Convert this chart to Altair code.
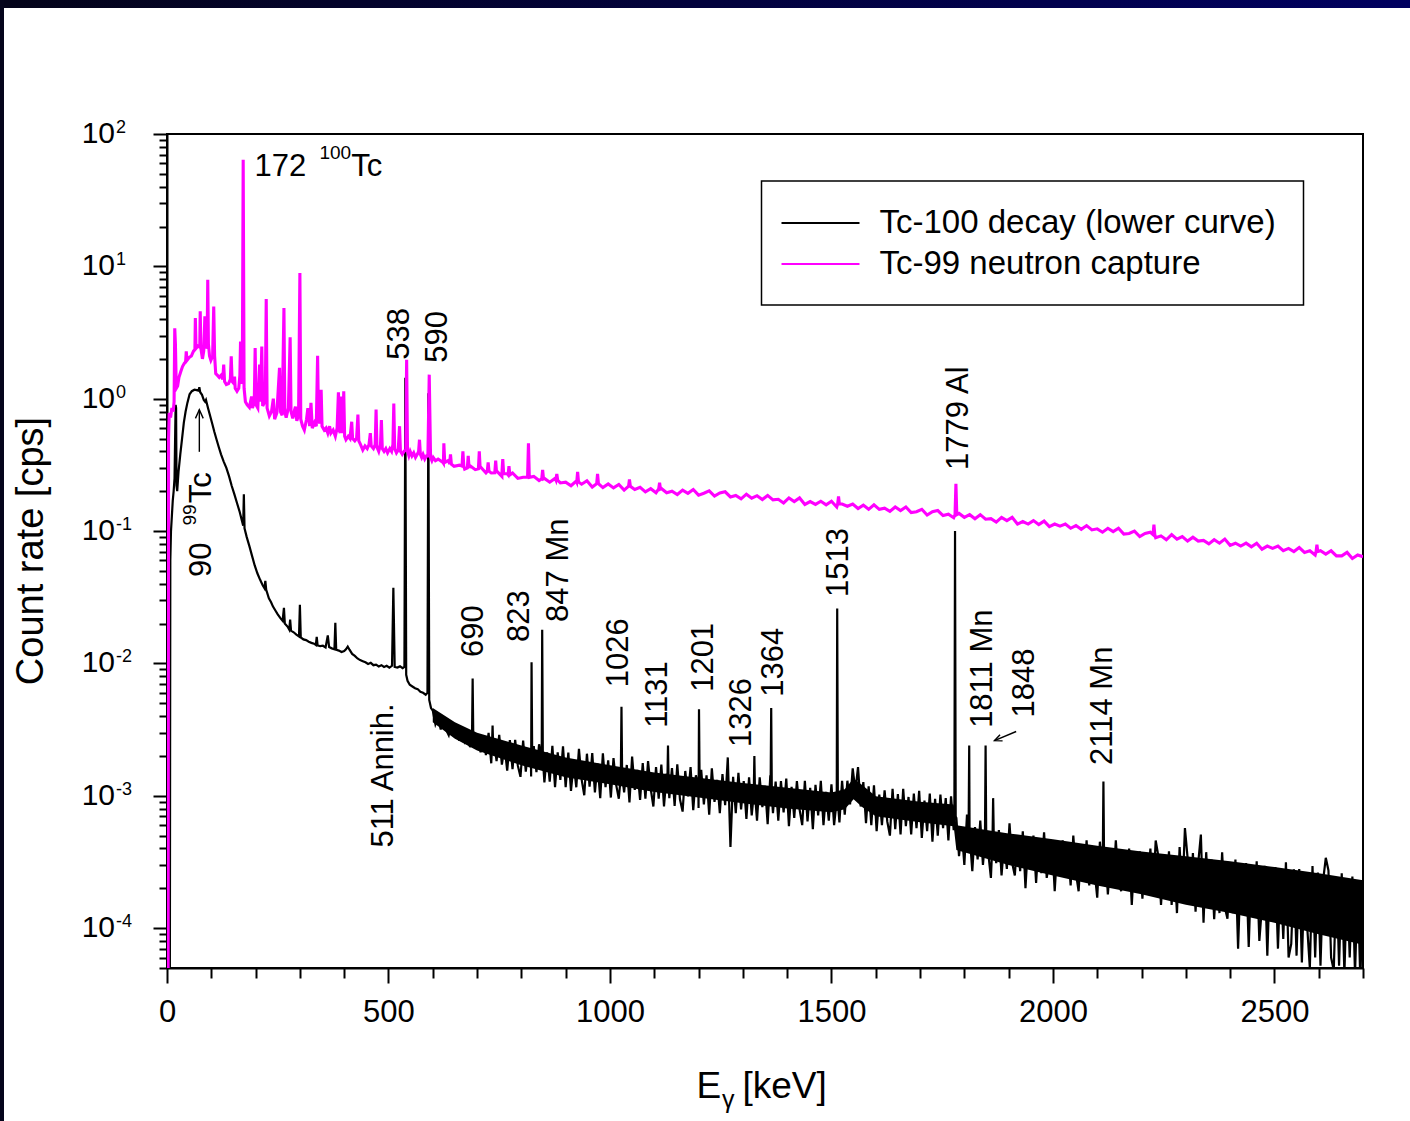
import altair as alt
import pandas as pd

FONT = "Liberation Sans"

# ---------------------------------------------------------------------------
# Tc-100 decay spectrum (black)
# low-energy part: (energy keV, count rate cps)
decay_low = [
    (6.5, 5e-5), (7.5, 0.06), (9, 0.1), (11, 0.13), (13, 0.17), (15, 0.2), (17, 0.25),
    (18.5, 0.55), (19.5, 0.9), (20.5, 0.85), (21.5, 0.22), (23, 0.2), (26, 0.28), (30, 0.38),
    (34, 0.5), (38, 0.66), (42, 0.8), (46, 0.93), (51, 1.08), (56, 1.14), (62, 1.17),
    (67, 1.16), (71, 1.15), (73, 1.22), (75, 1.12), (79, 1.07), (83, 0.98), (86, 0.95),
    (88, 0.98), (90, 0.92), (93, 0.84), (97, 0.75), (102, 0.65), (107, 0.56), (112, 0.49),
    (117, 0.43), (122, 0.38), (128, 0.335), (134, 0.3), (140, 0.26), (146, 0.22), (152, 0.19),
    (158, 0.163), (164, 0.14), (169, 0.12), (172, 0.11), (173.5, 0.19), (175, 0.105),
    (180, 0.09), (186, 0.077), (192, 0.065), (198, 0.055), (204, 0.048), (210, 0.043),
    (216, 0.039), (220, 0.037), (222, 0.042), (224, 0.036), (230, 0.031), (235, 0.029),
    (239, 0.027), (245, 0.025), (250, 0.0235), (256, 0.022), (261, 0.021), (264, 0.0263),
    (266, 0.02), (272, 0.019), (276, 0.018), (278, 0.0214), (280, 0.0177), (286, 0.0172),
    (292, 0.0165), (298, 0.016), (300, 0.0277), (302, 0.0157), (308, 0.0152), (314, 0.015),
    (320, 0.0146), (326, 0.0143), (332, 0.0141), (336, 0.0138), (338, 0.0159), (340, 0.0137),
    (346, 0.0135), (352, 0.0136), (358, 0.0132), (363, 0.0163), (366, 0.0133), (372, 0.013),
    (378, 0.0128), (380, 0.0203), (382, 0.0127), (388, 0.0125), (394, 0.0122), (400, 0.0124),
    (404, 0.0128), (408, 0.0134), (412, 0.0127), (418, 0.0118), (424, 0.0114), (430, 0.0109),
    (436, 0.0106), (442, 0.0104), (448, 0.0102), (454, 0.0099), (460, 0.0101), (466, 0.0097),
    (472, 0.0098), (478, 0.0095), (484, 0.0097), (490, 0.0094), (496, 0.0096), (502, 0.0093),
    (508, 0.0096), (511, 0.0373), (514, 0.0094), (520, 0.0093), (526, 0.0095), (532, 0.0092),
    (536, 0.0094), (538, 1.44), (540, 0.0082), (543, 0.0074), (548, 0.0069), (554, 0.0067),
    (560, 0.0065), (566, 0.0064), (572, 0.0061), (578, 0.006), (584, 0.0058), (588, 0.006),
    (590, 1.1), (592, 0.0053), (596, 0.0046),
]

# continuum from 600 keV on, 6 keV bins, count rate in units of 1e-4 cps
decay_tail_start_kev = 600
decay_tail_bin_kev = 6
decay_tail_1e4 = [
    44, 34.7, 39.2, 31.7, 39.2, 31.6, 28.7, 34.9, 28.4, 34.4,
    26, 32.5, 26, 29.9, 23.3, 30.2, 23.4, 28, 21.3, 27.4,
    20.3, 29.9, 17.6, 26.6, 18.3, 28.9, 17.2, 23.7, 15.5, 26.3,
    15.9, 26.5, 16.9, 13.9, 26.1, 15.2, 22.9, 14, 23.7, 15.1,
    24.5, 22.4, 12.6, 21.3, 12.8, 23.9, 11.6, 21.3, 13.2, 23.6,
    11.6, 21.2, 10.9, 17.6, 11.6, 22.6, 13.3, 10.1, 20.8, 11.7,
    21, 10.6, 17.5, 9.6, 20.9, 11.6, 18.5, 9.7, 19.3, 12.1,
    9.5, 19.4, 10.6, 17.1, 8.9, 19.8, 11.1, 15.7, 9.3, 17.7,
    9.5, 18.3, 11.3, 8.3, 16.5, 9.5, 17.2, 8.3, 14.7, 9.6,
    16.2, 8.4, 17.3, 9.4, 7.6, 15.4, 9.9, 16.5, 7.8, 14.3,
    8.1, 15.7, 8.6, 14.3, 7.2, 16.1, 9, 13.2, 7.4, 14.6,
    8.5, 19.5, 4.1, 13.9, 7.4, 14.9, 7.9, 12.9, 6.7, 13.8,
    7.1, 12.9, 6.5, 13.8, 8.2, 11.9, 6.1, 14.3, 7.4, 12.8,
    6.5, 12.9, 7.5, 13.5, 5.9, 11.7, 6.8, 12.9, 7.9, 6,
    13, 6.4, 11.5, 5.6, 12.1, 7.1, 13, 6, 10.7, 6.5,
    12.2, 6, 11, 6.3, 13, 7.2, 13, 8.6, 16.1, 10.9,
    16.5, 8.3, 12.7, 6.2, 11.8, 6, 12, 5.4, 10.2, 6,
    11, 6.4, 5, 11.3, 5.6, 10.3, 5.1, 11.3, 5.9, 9.8,
    5.1, 10.4, 5.7, 10.9, 4.8, 9.2, 5.4, 10.4, 4.5, 9.5,
    5, 10.2, 5.7, 9.6, 4.6, 9.9, 5.5,
    6.8, 3.5, 5.6, 3.0, 7.2, 3.8, 2.7, 5.8, 3.3, 6.5,
    3.0, 5.3, 3.7, 2.4, 6.2, 3.1, 5.5, 2.5, 4.5, 2.8,
    6.2, 3.1, 2.5, 5.0, 2.7, 5.4, 2.0, 4.5, 3.1, 5.0,
    2.2, 4.6, 2.6, 5.3, 2.4, 3.2, 4.6, 1.9, 4.1, 2.6,
    4.6, 2.4, 3.9, 2.1, 5.0, 2.6, 1.9, 4.1, 2.3, 4.6,
    2.1, 3.8, 2.7, 1.7, 4.5, 2.3, 4.0, 1.8, 3.3, 2.1,
    4.6, 2.3, 1.9, 3.8, 2.0, 4.0, 1.5, 3.4, 2.3, 3.8,
    1.67, 3.45, 1.97, 4.0, 1.8, 4.6, 3.5, 1.5, 3.1, 1.95,
    3.8, 1.5, 3.2, 1.3, 4.1, 1.7, 5.7, 3.4, 1.5, 3.7,
    1.33, 3.1, 5.1, 1.1, 3.75, 1.47, 3.3, 1.17, 2.75, 1.3,
    3.74, 1.44, 1.18, 3.05, 1.3, 3.3, 0.7, 2.75, 1.47, 3.1,
    0.72, 2.96, 1.21, 3.2, 0.8, 1.48, 2.96, 0.62, 2.65, 1.17,
    2.9, 0.7, 2.6, 0.83, 3.15, 0.6, 0.76, 2.78, 0.62, 2.8,
    0.55, 2.53, 1.03, 0.5, 2.95, 0.6, 2.63, 0.52, 2.3, 3.4,
    2.73, 0.6, 0.48, 2.43, 0.52, 2.6, 0.45, 2.3, 0.6, 2.45,
    0.45, 2.2, 0.4, 2.3,
]

# dense core of the noisy continuum: energy, lower and upper edge (cps)
decay_band_kev = [600, 650, 700, 800, 900, 1000, 1100, 1200, 1300, 1400, 1500, 1530, 1550, 1570,
                  1600, 1700, 1776, 1782, 1900, 2000, 2100, 2200, 2300, 2400, 2500, 2600, 2700]
decay_band_low = [0.0036, 0.0027, 0.0022, 0.0017, 0.00138, 0.00122, 0.00107, 0.00097, 0.00088,
                  0.0008, 0.00075, 0.00079, 0.00094, 0.00082, 0.0007, 0.00063, 0.00059, 0.00039,
                  0.0003, 0.00025, 0.00021, 0.00018, 0.00015, 0.00013, 0.00011, 0.00009, 0.000075]
decay_band_high = [0.0046, 0.0036, 0.003, 0.0024, 0.00195, 0.0017, 0.0015, 0.00137, 0.00125,
                   0.00115, 0.00106, 0.00112, 0.00135, 0.0012, 0.00099, 0.0009, 0.00086, 0.0006,
                   0.00052, 0.00047, 0.00042, 0.00038, 0.00035, 0.00032, 0.00029, 0.00026, 0.00023]

# photopeaks on the continuum: energy (keV), peak rate and continuum under it (cps)
decay_peak_kev = [690, 735, 823, 847, 1026, 1131, 1201, 1326, 1364, 1513, 1779, 1811, 1848, 1865, 2114]
decay_peak_cps = [0.0077, 0.0034, 0.0102, 0.018, 0.0047, 0.0024, 0.0045, 0.0020, 0.0046, 0.026,
                  0.10, 0.0024, 0.0024, 0.00096, 0.00128]
decay_peak_base = [0.0027, 0.0023, 0.0019, 0.0019, 0.00142, 0.0012, 0.00115, 0.00102, 0.00098, 0.0009,
                   0.0007, 0.00048, 0.00045, 0.00045, 0.00032]

# ---------------------------------------------------------------------------
# Tc-99 neutron capture spectrum (magenta)
capture_low = [
    (2.5, 5e-5), (3.5, 0.5), (5, 0.78), (8, 0.72), (11, 0.85), (14, 0.8), (16, 0.95),
    (17.5, 3.4), (19, 2.6), (21, 1.2), (24, 1.25), (27, 1.45), (31, 1.6), (35, 1.75),
    (39, 1.85), (42, 1.9), (43.5, 2.28), (45, 1.95), (50, 2.05), (55, 2.1), (60, 2.3),
    (63, 2.35), (64, 4.07), (65.5, 2.4), (70, 2.5), (74, 2.45), (75, 4.57), (76.5, 2.4),
    (80, 2.0), (83, 2.3), (85.5, 4.19), (88, 2.4), (90.5, 2.5), (92, 7.93), (93.5, 2.6),
    (96, 2.1), (99, 1.95), (103, 2.1), (105.5, 4.98), (107.5, 2.1), (110, 1.55), (114, 1.5),
    (118, 1.45), (122, 1.5), (126, 1.4), (128, 1.81), (130, 1.35), (134, 1.28), (139, 1.3),
    (143, 1.4), (145, 2.09), (147, 1.35), (151, 1.3), (152.5, 1.47), (154, 1.2), (158, 1.14),
    (162, 1.2), (164.5, 1.5), (166, 2.71), (168, 1.3), (170, 1.35), (172, 64.0), (174, 1.2),
    (177, 0.95), (181, 0.9), (186, 0.86), (191, 1.04), (193, 0.85), (197, 0.95), (199, 2.42),
    (201, 0.9), (205, 0.85), (209, 1.81), (211, 0.95), (214, 2.48), (216, 0.88), (219, 0.92),
    (222, 1.1), (224, 5.66), (226, 0.85), (231, 0.74), (236, 0.8), (240, 1.0), (243, 0.7),
    (248, 0.78), (254, 1.71), (256, 0.8), (260, 0.75), (264, 4.85), (266, 0.8), (269, 0.72),
    (274, 0.85), (278, 2.91), (280, 0.8), (284, 0.71), (287, 0.8), (290, 0.87), (293, 0.68),
    (297, 0.75), (300, 8.9), (302, 0.7), (306, 0.62), (310, 0.58), (315, 0.7), (318, 0.85),
    (322, 0.62), (325, 0.93), (328, 0.6), (333, 0.66), (337, 0.62), (340, 2.11), (342, 0.7),
    (345, 0.65), (348, 1.17), (350, 0.62), (355, 0.58), (359, 0.6), (363, 0.55), (367, 0.62),
    (370, 0.55), (375, 0.58), (380, 0.52), (384, 0.6), (387, 1.12), (389, 0.58), (391, 0.55),
    (393, 1.04), (395, 0.55), (397, 0.6), (399, 1.14), (401, 0.52), (404, 0.49), (409, 0.52),
    (413, 0.5), (417, 0.67), (419, 0.5), (424, 0.48), (428, 0.5), (431, 0.76), (433, 0.48),
    (437, 0.45), (442, 0.41), (447, 0.44), (452, 0.42), (456, 0.45), (459, 0.55), (461, 0.44),
    (466, 0.42), (470, 0.45), (472, 0.83), (474, 0.43), (478, 0.4), (482, 0.45), (484, 0.69),
    (486, 0.42), (490, 0.4), (494, 0.42), (498, 0.39), (503, 0.42), (507, 0.4), (510, 0.45),
    (512, 0.92), (514, 0.42), (518, 0.39), (522, 0.41), (525, 0.62), (527, 0.4), (531, 0.38),
    (535, 0.4), (539, 0.41), (541, 1.97), (543, 0.4), (546, 0.37), (549, 0.4), (553, 0.37),
    (557, 0.39), (561, 0.36), (565, 0.38), (568, 0.4), (570, 0.49), (572, 0.38), (575, 0.36),
    (578, 0.38), (582, 0.35), (586, 0.37), (589, 0.37), (592, 1.52), (595, 0.36), (598, 0.34),
    (601, 0.36), (606, 0.34),
]

# continuum from 612 keV on, 12 keV bins (cps)
capture_tail_start_kev = 612
capture_tail_bin_kev = 12
capture_tail_cps = [
    0.35, 0.326, 0.342, 0.309, 0.315, 0.294, 0.312, 0.291, 0.305, 0.275,
    0.275, 0.285, 0.259, 0.271, 0.275, 0.25, 0.255, 0.239, 0.259, 0.241,
    0.25, 0.234, 0.25, 0.231, 0.234, 0.22, 0.239, 0.226, 0.24, 0.215,
    0.224, 0.213, 0.227, 0.212, 0.225, 0.204, 0.214, 0.206, 0.214, 0.198,
    0.209, 0.195, 0.21, 0.195, 0.2, 0.189, 0.204, 0.193, 0.206, 0.187,
    0.193, 0.201, 0.184, 0.194, 0.198, 0.181, 0.186, 0.175, 0.19, 0.177,
    0.185, 0.173, 0.186, 0.172, 0.174, 0.163, 0.178, 0.167, 0.178, 0.159,
    0.167, 0.159, 0.168, 0.158, 0.168, 0.152, 0.16, 0.154, 0.16, 0.148,
    0.157, 0.146, 0.158, 0.146, 0.149, 0.141, 0.152, 0.143, 0.152, 0.138,
    0.14, 0.146, 0.132, 0.14, 0.143, 0.131, 0.134, 0.126, 0.136, 0.127,
    0.133, 0.124, 0.133, 0.123, 0.124, 0.117, 0.127, 0.12, 0.127, 0.113,
    0.118, 0.113, 0.12, 0.112, 0.119, 0.108, 0.113, 0.109, 0.113, 0.105,
    0.11, 0.103, 0.11, 0.102, 0.104, 0.098, 0.105, 0.099, 0.105, 0.095,
    0.096, 0.1, 0.091, 0.096, 0.098, 0.089, 0.092, 0.086, 0.094, 0.087,
    0.091, 0.084, 0.09, 0.084, 0.085, 0.08, 0.086, 0.081, 0.087, 0.078,
    0.081, 0.077, 0.081, 0.076, 0.081, 0.073, 0.077, 0.074, 0.077, 0.071,
    0.074, 0.07, 0.075, 0.069, 0.071, 0.066, 0.071, 0.067, 0.071, 0.065,
    0.065, 0.069, 0.062, 0.066, 0.064,
]

capture_peak_kev = [625, 640, 668, 680, 705, 725, 742, 758, 772, 816, 848, 880, 927, 972, 1044,
                    1112, 1516, 1781, 2228, 2596]
capture_peak_cps = [0.46, 0.38, 0.40, 0.37, 0.40, 0.33, 0.34, 0.35, 0.31, 0.46, 0.29, 0.27, 0.28, 0.27,
                    0.245, 0.232, 0.183, 0.228, 0.112, 0.079]
capture_peak_base = [0.33, 0.32, 0.31, 0.30, 0.295, 0.283, 0.276, 0.272, 0.266, 0.255, 0.248, 0.242,
                     0.235, 0.228, 0.218, 0.208, 0.16, 0.133, 0.094, 0.07]

# ---------------------------------------------------------------------------
# line annotations (rotated, reading upwards from the anchor)
label_text = ["538", "590", "690", "823", "847 Mn", "1026", "1131", "1201", "1326", "1364",
              "1513", "1779 Al", "1811 Mn", "1848", "2114 Mn", "511 Annih.", "90", "Tc"]
label_kev = [525, 611, 694, 796, 886, 1021, 1108, 1213, 1297, 1371,
             1518, 1789, 1843, 1936, 2114, 491, 80, 80]
label_cps = [1.97, 1.87, 0.0112, 0.01455, 0.0206, 0.0066, 0.00326, 0.0061, 0.00234, 0.0056,
             0.0318, 0.29, 0.00326, 0.0039, 0.00171, 4.06e-4, 0.045, 0.162]
# mass number written as a superscript of the rotated 99Tc label
sup_rot_text = ["99"]
sup_rot_kev = [52]
sup_rot_cps = [0.11]

# horizontal annotation "172 100Tc"
flat_text = ["172", "Tc"]
flat_kev = [197.5, 416]
flat_cps = [48.5, 48.5]
sup_flat_text = ["100"]
sup_flat_kev = [344]
sup_flat_cps = [65]

# arrows: tail -> head
arrow_tail_kev = [73, 1917]
arrow_tail_cps = [0.397, 0.00306]
arrow_head_kev = [73, 1868]
arrow_head_cps = [0.826, 0.00261]

# y axis decades
decade_cps = [100, 10, 1, 0.1, 0.01, 0.001, 0.0001]
decade_exp = ["2", "1", "0", "-1", "-2", "-3", "-4"]


def spectrum(low, start, step, tail, scale, peak_e, peak_top, peak_base, half_width):
    rows = list(low)
    for i, v in enumerate(tail):
        e = start + step * i
        if e not in peak_e:
            rows.append((e, v * scale))
    for e, top, base in zip(peak_e, peak_top, peak_base):
        rows += [(e - half_width, base), (e, top), (e + half_width, base)]
    return pd.DataFrame(rows, columns=["E", "cps"]).sort_values("E").reset_index(drop=True)


decay = spectrum(decay_low, decay_tail_start_kev, decay_tail_bin_kev, decay_tail_1e4, 1e-4,
                 decay_peak_kev, decay_peak_cps, decay_peak_base, 1.5)
capture = spectrum(capture_low, capture_tail_start_kev, capture_tail_bin_kev, capture_tail_cps, 1.0,
                   capture_peak_kev, capture_peak_cps, capture_peak_base, 2.0)
decay_band = pd.DataFrame({"E": decay_band_kev, "cps": decay_band_low, "cps2": decay_band_high})

# ---------------------------------------------------------------------------
W, H = 1196, 834
PAD = {"left": 167, "top": 134, "right": 47, "bottom": 153}
MAGENTA = "#ff00ff"

DECADE = "abs(log(datum.value) / LN10 - round(log(datum.value) / LN10)) < 0.01"
x_ticks = list(range(0, 2701, 100))
y_ticks = [m * 10.0 ** d for d in range(-5, 2) for m in range(1, 10) if m * 10.0 ** d > 4.9e-5] + [100.0]

X = alt.X(
    "E:Q",
    scale=alt.Scale(domain=[0, 2700], nice=False, zero=False),
    axis=alt.Axis(
        values=x_ticks, title=None, format="d", grid=False,
        labelExpr="datum.value % 500 === 0 ? datum.label : ''",
        tickSize={"condition": {"test": "datum.value % 500 === 0", "value": 15}, "value": 10},
        labelFontSize=31, labelPadding=14, labelOverlap=False, labelFlush=False,
    ),
)
Y = alt.Y(
    "cps:Q",
    scale=alt.Scale(type="log", domain=[5e-5, 100], nice=False),
    axis=alt.Axis(
        values=y_ticks, title=None, labels=False, grid=False,
        tickSize={"condition": {"test": DECADE, "value": 14}, "value": 8},
    ),
)

one = pd.DataFrame({"k": [0]})

top_band = alt.Chart(one).mark_rect(
    color=alt.Gradient(
        gradient="linear",
        stops=[alt.GradientStop(color="#04041a", offset=0), alt.GradientStop(color="#00005f", offset=1)],
        x1=0, x2=1, y1=0, y2=0,
    )
).encode(x=alt.value(-PAD["left"]), x2=alt.value(W + PAD["right"]),
         y=alt.value(-PAD["top"]), y2=alt.value(-PAD["top"] + 8))
left_band = alt.Chart(one).mark_rect(color="#05051c").encode(
    x=alt.value(-PAD["left"]), x2=alt.value(-PAD["left"] + 4),
    y=alt.value(-PAD["top"]), y2=alt.value(H + PAD["bottom"]))

decay_core = alt.Chart(decay_band).mark_area(color="black", clip=True).encode(x=X, y=Y, y2="cps2:Q")
decay_line = alt.Chart(decay).mark_line(color="black", strokeWidth=2.2, clip=True).encode(x=X, y=Y)
capture_line = alt.Chart(capture).mark_line(color=MAGENTA, strokeWidth=3.1, clip=True).encode(x=X, y=Y)

labels = pd.DataFrame({"E": label_kev, "cps": label_cps, "text": label_text})
label_layer = alt.Chart(labels).mark_text(
    angle=270, align="left", baseline="middle", fontSize=31, font=FONT, color="black"
).encode(x=X, y=Y, text="text:N")
sup_rot = pd.DataFrame({"E": sup_rot_kev, "cps": sup_rot_cps, "text": sup_rot_text})
sup_rot_layer = alt.Chart(sup_rot).mark_text(
    angle=270, align="left", baseline="middle", fontSize=19, font=FONT, color="black"
).encode(x=X, y=Y, text="text:N")
flat = pd.DataFrame({"E": flat_kev, "cps": flat_cps, "text": flat_text})
flat_layer = alt.Chart(flat).mark_text(
    align="left", baseline="alphabetic", fontSize=31, font=FONT, color="black"
).encode(x=X, y=Y, text="text:N")
sup_flat = pd.DataFrame({"E": sup_flat_kev, "cps": sup_flat_cps, "text": sup_flat_text})
sup_flat_layer = alt.Chart(sup_flat).mark_text(
    align="left", baseline="alphabetic", fontSize=19, font=FONT, color="black"
).encode(x=X, y=Y, text="text:N")

arrows = pd.DataFrame({"E": arrow_tail_kev, "cps": arrow_tail_cps,
                       "E2": arrow_head_kev, "cps2": arrow_head_cps})
shaft_layer = alt.Chart(arrows).mark_rule(color="black", strokeWidth=1.4).encode(
    x=X, y=Y, x2="E2:Q", y2="cps2:Q")
HEAD = "M-0.45,1L0,0L0.45,1"
heads = pd.DataFrame({"E": arrow_head_kev, "cps": arrow_head_cps})
head_up = alt.Chart(heads.iloc[[0]]).mark_point(
    shape=HEAD, filled=False, size=300, strokeWidth=1.4, color="black", opacity=1, angle=0
).encode(x=X, y=Y)
head_side = alt.Chart(heads.iloc[[1]]).mark_point(
    shape=HEAD, filled=False, size=220, strokeWidth=1.4, color="black", opacity=1, angle=247.5
).encode(x=X, y=Y)

decades = pd.DataFrame({"cps": decade_cps, "base": ["10"] * len(decade_cps), "exp": decade_exp})
tick_base = alt.Chart(decades).mark_text(
    align="right", baseline="middle", fontSize=30, font=FONT, color="black"
).encode(x=alt.value(-52), y=Y, text="base:N")
tick_exp = alt.Chart(decades).mark_text(
    align="left", baseline="middle", fontSize=18, font=FONT, color="black", dy=-6
).encode(x=alt.value(-51), y=Y, text="exp:N")

y_title = alt.Chart(one).mark_text(
    text="Count rate [cps]", angle=270, align="center", baseline="middle",
    fontSize=38, font=FONT, color="black"
).encode(x=alt.value(-135), y=alt.value(H / 2))
x_title_e = alt.Chart(one).mark_text(
    text="E", align="left", baseline="alphabetic", fontSize=37, font=FONT, color="black"
).encode(x=alt.value(529.5), y=alt.value(964))
x_title_g = alt.Chart(one).mark_text(
    text="γ", align="left", baseline="alphabetic", fontSize=25, font=FONT, color="black"
).encode(x=alt.value(555), y=alt.value(974))
x_title_u = alt.Chart(one).mark_text(
    text="[keV]", align="left", baseline="alphabetic", fontSize=37, font=FONT, color="black"
).encode(x=alt.value(575.5), y=alt.value(964))

legend_box = alt.Chart(one).mark_rect(fill="white", stroke="black", strokeWidth=1.5).encode(
    x=alt.value(594.5), x2=alt.value(1136.5), y=alt.value(47), y2=alt.value(171))
legend_decay = alt.Chart(one).mark_rule(color="black", strokeWidth=2).encode(
    x=alt.value(614.5), x2=alt.value(692.5), y=alt.value(89))
legend_capture = alt.Chart(one).mark_rule(color=MAGENTA, strokeWidth=2).encode(
    x=alt.value(614.5), x2=alt.value(692.5), y=alt.value(130))
legend_decay_text = alt.Chart(one).mark_text(
    text="Tc-100 decay (lower curve)", align="left", baseline="middle", fontSize=33, font=FONT,
    color="black").encode(x=alt.value(712.5), y=alt.value(89))
legend_capture_text = alt.Chart(one).mark_text(
    text="Tc-99 neutron capture", align="left", baseline="middle", fontSize=33, font=FONT,
    color="black").encode(x=alt.value(712.5), y=alt.value(130))

chart = alt.layer(
    top_band, left_band,
    decay_core, decay_line, capture_line,
    shaft_layer, head_up, head_side,
    label_layer, sup_rot_layer, flat_layer, sup_flat_layer,
    legend_box, legend_decay, legend_capture, legend_decay_text, legend_capture_text,
    tick_base, tick_exp, y_title, x_title_e, x_title_g, x_title_u,
).properties(
    width=W, height=H, padding=PAD,
    autosize=alt.AutoSizeParams(type="none"),
    background="white",
).configure_view(
    stroke="black", strokeWidth=2
).configure_axis(
    domainColor="black", domainWidth=2, tickColor="black", tickWidth=2,
    labelColor="black", labelFont=FONT,
)

chart.save("out.html", embed_options={"renderer": "svg", "actions": False})
